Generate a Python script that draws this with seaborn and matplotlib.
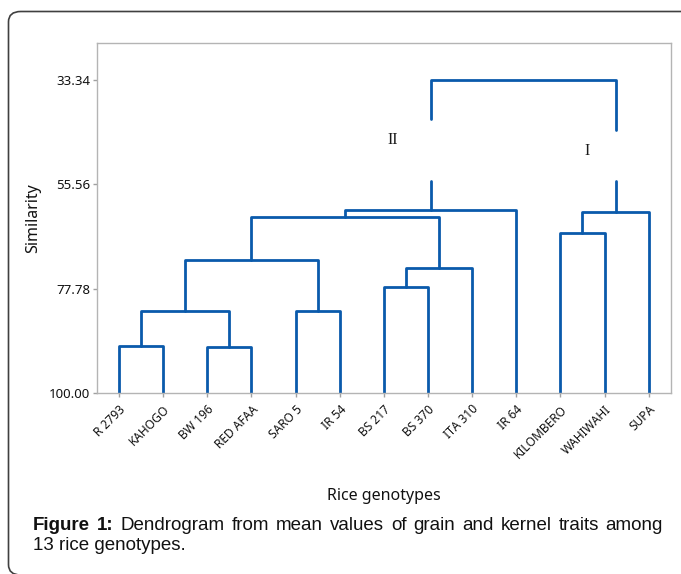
import matplotlib
matplotlib.use("Agg")
import matplotlib.pyplot as plt
from matplotlib.patches import FancyBboxPatch
import pandas as pd
import seaborn as sns

# Leaves in dendrogram order
genotypes = ['R 2793', 'KAHOGO', 'BW 196', 'RED AFAA', 'SARO 5', 'IR 54', 'BS 217',
             'BS 370', 'ITA 310', 'IR 64', 'KILOMBERO', 'WAHIWAHI', 'SUPA']

# Merge steps: cluster ids 0..12 are leaves, new clusters get 13, 14, ...
merge_left = [0, 2, 13, 4, 15, 6, 18, 17, 20, 10, 22, 21]
merge_right = [1, 3, 14, 5, 16, 7, 8, 19, 9, 11, 12, 23]
merge_sim = [89.9, 90.2, 82.5, 82.5, 71.7, 77.5, 73.4, 62.5, 61.0, 65.9, 61.4, 33.34]

# Gaps in the two top branches (where the cluster labels sit)
gap_left = (41.8, 54.9)
gap_right = (44.1, 54.9)
group_labels = ['II', 'I']
group_label_pos = [(6.19, 46.1), (10.61, 48.4)]

ytick_vals = [33.34, 55.56, 77.78, 100.00]

W, H = 681, 574
fig = plt.figure(figsize=(W / 100, H / 100), dpi=100)
sns.set_theme(style='white')
plt.rcParams['font.family'] = ['Noto Sans', 'DejaVu Sans']

# build segments of the dendrogram
xpos = {i: float(i) for i in range(len(genotypes))}
hgt = {i: 100.0 for i in range(len(genotypes))}
rows = []
seg = 0
n = len(genotypes)
for k, (a, b, s) in enumerate(zip(merge_left, merge_right, merge_sim)):
    cid = n + k
    xa, xb = xpos[a], xpos[b]
    is_root = k == len(merge_sim) - 1
    if not is_root:
        pts = [(xa, hgt[a]), (xa, s), (xb, s), (xb, hgt[b])]
        for x, y in pts:
            rows.append({'x': x, 'y': y, 'seg': seg})
        seg += 1
    else:
        # top link with gaps in the verticals
        for x, y in [(xa, gap_left[0]), (xa, s), (xb, s), (xb, gap_right[0])]:
            rows.append({'x': x, 'y': y, 'seg': seg})
        seg += 1
        for x, y in [(xa, gap_left[1]), (xa, hgt[a])]:
            rows.append({'x': x, 'y': y, 'seg': seg})
        seg += 1
        for x, y in [(xb, gap_right[1]), (xb, hgt[b])]:
            rows.append({'x': x, 'y': y, 'seg': seg})
        seg += 1
    xpos[cid] = (xa + xb) / 2
    hgt[cid] = s
df = pd.DataFrame(rows)

ax = fig.add_axes([97 / W, 1 - 393 / H, (670.7 - 97) / W, (393 - 42.7) / H])
sns.lineplot(data=df, x='x', y='y', units='seg', estimator=None, sort=False,
             color='#0a5aab', linewidth=2.0, ax=ax)

ax.set_xlim(-0.5, n - 0.5)
ax.set_ylim(100, 25.46)
ax.set_xticks(range(n))
ax.set_xticklabels(genotypes, rotation=45, ha='right', rotation_mode='anchor',
                   fontsize=8.6, color='#111111')
ax.set_yticks(ytick_vals)
ax.set_yticklabels([f'{v:.2f}' for v in ytick_vals], fontsize=9.5, color='#111111')
ax.tick_params(axis='both', length=3, width=1, color='#a0a0a0', pad=2, bottom=True, left=True)
ax.tick_params(axis='x', pad=4)
for sp in ax.spines.values():
    sp.set_color('#b4b4b4')
    sp.set_linewidth(1.0)
ax.set_xlabel('Rice genotypes', fontsize=11.5, color='#111111')
ax.set_ylabel('Similarity', fontsize=11.5, color='#111111')
ax.xaxis.set_label_coords(0.5, -0.272)
ax.yaxis.set_label_coords(-0.098, 0.5)

for lab, (lx, ly) in zip(group_labels, group_label_pos):
    ax.text(lx, ly, lab, ha='center', va='center', fontsize=11.5,
            family=['Liberation Serif', 'DejaVu Serif'], color='#1a1a1a')

# rounded frame around figure and caption
frame = FancyBboxPatch((8.5 / W, 1 - 575 / H), (700 - 8.5) / W, (575 - 11.5) / H,
                       boxstyle='round,pad=0,rounding_size=0.018', transform=fig.transFigure,
                       facecolor='none', edgecolor='#404040', linewidth=1.2, clip_on=False)
fig.patches.append(frame)

# caption, first line justified
cap_font = ['Liberation Sans', 'DejaVu Sans']
cap_size = 13.5
line1 = ['Figure', '1:', 'Dendrogram', 'from', 'mean', 'values', 'of', 'grain', 'and',
         'kernel', 'traits', 'among']
bold_words = 2
x_left, x_right = 33, 663
y1, y2 = 525, 546
fig.canvas.draw()
renderer = fig.canvas.get_renderer()
texts = []
widths = []
for i, w in enumerate(line1):
    t = fig.text(0, 1 - y1 / H, w, fontsize=cap_size, family=cap_font, va='center',
                 fontweight='bold' if i < bold_words else 'normal', color='#111111')
    texts.append(t)
    widths.append(t.get_window_extent(renderer).width)
gap = (x_right - x_left - sum(widths)) / (len(line1) - 1)
x = x_left
for t, wd in zip(texts, widths):
    t.set_x(x / W)
    x += wd + gap
fig.text(x_left / W, 1 - y2 / H, '13 rice genotypes.', fontsize=cap_size, family=cap_font,
         va='center', color='#111111')

fig.savefig('out.png', dpi=100)
